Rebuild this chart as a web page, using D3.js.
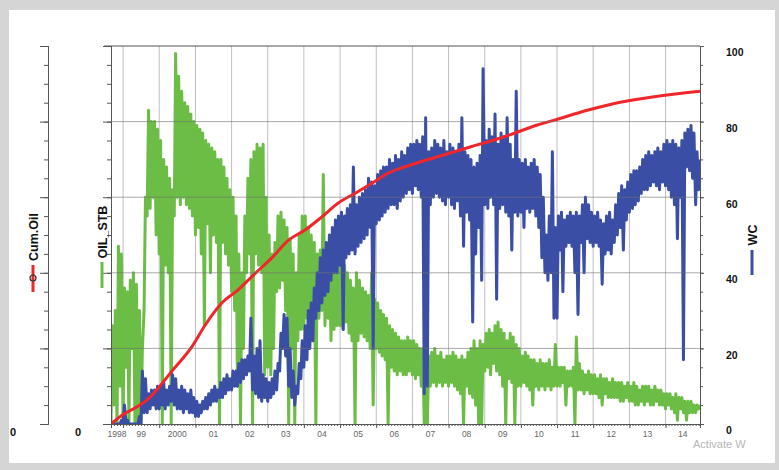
<!DOCTYPE html>
<html>
<head>
<meta charset="utf-8">
<script src="https://cdn.jsdelivr.net/npm/d3@7"></script>
<style>
  html, body { margin: 0; padding: 0; background: #fff; }
  svg { display: block; font-family: "Liberation Sans", Arial, sans-serif; }
</style>
</head>
<body>
<svg id="chart" width="779" height="470"></svg>
<script>
// ---- production history, one entry per month starting Sep 1998 ----
const firstMonth = "1998-09-01";
const lastDate = "2014-12-15";

const yearLabels = ["1998", "99", "2000", "01", "02", "03", "04", "05", "06", "07",
                    "08", "09", "10", "11", "12", "13", "14"];
const wcTicks = [0, 20, 40, 60, 80, 100];

// water cut (%), monthly low / high of the daily readings
const wcLo = [
  0, 0, 0, 0,
  0, 0, 0, 0, 0, 0, 0, 3, 3, 4, 5, 4,
  4, 5, 4, 5, 6, 5, 4, 4, 3, 4, 3, 3,
  2, 2, 3, 4, 4, 5, 6, 6, 7, 7, 8, 9,
  9, 10, 10, 11, 12, 13, 14, 9, 8, 7, 6, 7,
  6, 7, 8, 9, 14, 20, 18, 10, 7, 5, 8, 12,
  15, 17, 20, 22, 28, 30, 32, 34, 35, 38, 40, 40,
  42, 25, 44, 45, 46, 45, 47, 48, 49, 50, 52, 20,
  53, 54, 55, 56, 57, 58, 58, 57, 59, 60, 61, 62,
  61, 63, 62, 60, 8, 10, 58, 60, 61, 60, 59, 58,
  60, 58, 57, 59, 55, 47, 56, 54, 27, 45, 52, 38,
  58, 57, 60, 58, 33, 57, 58, 56, 55, 46, 56, 55,
  56, 52, 57, 56, 57, 55, 52, 44, 40, 38, 40, 28,
  28, 46, 35, 47, 48, 47, 40, 29, 48, 40, 49, 48,
  47, 48, 47, 37, 45, 46, 45, 48, 50, 52, 46, 54,
  56, 57, 58, 59, 61, 62, 62, 63, 64, 63, 62, 64,
  63, 62, 60, 58, 49, 60, 17, 68, 67, 65, 58, 62
];
const wcHi = [
  0, 0, 0, 1,
  5, 1, 0, 0, 0, 2, 14, 12, 8, 9, 9, 10,
  10, 11, 9, 10, 13, 12, 9, 10, 9, 8, 9, 7,
  6, 5, 6, 7, 8, 9, 10, 9, 11, 12, 13, 12,
  14, 14, 16, 17, 17, 18, 28, 18, 20, 22, 13, 12,
  11, 12, 14, 16, 24, 29, 28, 20, 14, 10, 16, 22,
  26, 30, 32, 36, 40, 44, 46, 48, 50, 52, 54, 55,
  56, 55, 57, 58, 68, 58, 60, 61, 62, 65, 64, 63,
  66, 67, 68, 68, 70, 69, 71, 70, 72, 71, 73, 74,
  74, 75, 74, 76, 81, 72, 73, 75, 74, 73, 75, 72,
  74, 73, 72, 74, 81, 72, 71, 70, 68, 69, 71, 94,
  75, 78, 76, 82, 74, 77, 76, 81, 74, 70, 88, 70,
  69, 70, 68, 69, 70, 68, 66, 60, 50, 55, 72, 52,
  55, 56, 54, 55, 56, 55, 56, 55, 58, 60, 58, 56,
  55, 56, 54, 53, 55, 56, 54, 58, 61, 63, 62, 64,
  66, 67, 67, 68, 70, 71, 72, 71, 72, 73, 72, 74,
  75, 74, 75, 74, 73, 75, 77, 78, 79, 77, 72, 70
];

// oil rate (percent of the OIL_STB axis), monthly low / high
const oilLo = [
  0, 5, 0, 10,
  0, 15, 0, 20, 0, 0, 0, 30, 55, 57, 60, 50,
  45, 0, 42, 40, 0, 55, 60, 58, 60, 58, 57, 55,
  50, 52, 45, 26, 53, 40, 50, 48, 0, 48, 45, 42,
  35, 30, 10, 0, 20, 40, 45, 0, 45, 42, 40, 13,
  15, 13, 20, 35, 36, 38, 30, 0, 20, 0, 22, 25,
  25, 28, 30, 22, 0, 28, 30, 26, 28, 22, 25, 26,
  26, 25, 27, 24, 22, 0, 22, 24, 23, 22, 20, 5,
  20, 19, 18, 17, 0, 15, 14, 13, 14, 13, 13, 14,
  13, 12, 13, 10, 0, 0, 10, 11, 10, 11, 10, 11,
  10, 11, 10, 9, 8, 0, 10, 8, 7, 5, 0, 0,
  14, 15, 13, 16, 14, 13, 10, 0, 12, 11, 0, 10,
  10, 11, 10, 9, 5, 10, 9, 10, 9, 10, 9, 10,
  10, 10, 11, 5, 10, 10, 0, 9, 9, 8, 9, 8,
  8, 8, 7, 5, 8, 7, 7, 7, 7, 6, 6, 7,
  6, 6, 5, 5, 6, 5, 6, 5, 5, 6, 5, 5,
  4, 5, 4, 3, 1, 4, 3, 1, 3, 3, 3, 4
];
const oilHi = [
  26, 30, 47, 45,
  36, 35, 38, 40, 37, 30, 20, 60, 83, 80, 80, 78,
  75, 70, 68, 65, 62, 98, 92, 88, 85, 84, 82, 80,
  79, 78, 77, 75, 74, 73, 72, 70, 70, 68, 65, 62,
  60, 55, 45, 40, 55, 65, 70, 72, 74, 73, 74, 60,
  50, 45, 48, 55, 56, 54, 52, 49, 45, 40, 50, 55,
  55, 52, 50, 48, 45, 46, 66, 45, 44, 42, 43, 42,
  44, 42, 40, 38, 36, 40, 38, 36, 35, 34, 40, 33,
  32, 30, 29, 28, 26, 25, 24, 23, 22, 22, 23, 22,
  22, 21, 20, 20, 19, 18, 19, 20, 18, 19, 17, 18,
  18, 19, 18, 17, 18, 17, 19, 20, 22, 20, 22, 21,
  24, 25, 24, 26, 27, 25, 24, 22, 24, 23, 21, 20,
  18, 19, 18, 17, 17, 16, 17, 16, 16, 17, 15, 21,
  15, 15, 15, 14, 14, 15, 23, 16, 14, 13, 14, 13,
  13, 12, 13, 12, 12, 11, 12, 11, 11, 11, 10, 11,
  10, 11, 10, 9, 10, 10, 10, 9, 10, 9, 9, 8,
  8, 8, 7, 8, 7, 7, 6, 6, 6, 5, 5, 5
];

// cumulative oil (percent of the Cum.Oil axis)
const cumDates = [
  "1998-09-01", "1999-01-01", "1999-06-20", "1999-09-10", "2000-01-01",
  "2000-05-08", "2000-11-25", "2001-04-05", "2001-09-24", "2002-03-08",
  "2002-08-25", "2003-02-14", "2003-07-24", "2004-01-12", "2004-07-01",
  "2004-12-10", "2005-05-30", "2005-11-17", "2006-04-27", "2006-10-15",
  "2007-09-12", "2008-08-22", "2009-07-19", "2010-06-17", "2010-12-05",
  "2011-11-03", "2012-10-12", "2013-09-10", "2014-12-15"
];
const cumValues = [
  0, 2.5, 5, 6.6, 9.8,
  14, 20.4, 26, 32, 35.5,
  39.8, 44, 48.5, 51.3, 54.8,
  58.4, 61, 63.7, 66.3, 68,
  70.7, 73.4, 76, 79.1, 80.4,
  83, 85.2, 86.6, 88
];

// ---- layout ----
const W = 779, H = 470;
const plot = { left: 111, right: 700, top: 46, bottom: 424 };
const colors = { oil: "#6cbd45", wc: "#3a4ea6", cum: "#f0262a" };

const svg = d3.select("#chart");
const parse = d3.utcParse("%Y-%m-%d");
const t0 = parse(firstMonth), t1 = parse(lastDate);

const x = d3.scaleUtc().domain([t0, t1]).range([plot.left, plot.right]);
const yWc = d3.scaleLinear().domain([0, 100]).range([plot.bottom, plot.top]);
const yOil = d3.scaleLinear().domain([0, 100]).range([plot.bottom, plot.top]);
const yCum = d3.scaleLinear().domain([0, 100]).range([plot.bottom, plot.top]);

// outer frame
svg.append("rect").attr("width", W).attr("height", H).attr("fill", "#d5d5d5");
svg.append("rect").attr("x", 9).attr("y", 10).attr("width", W - 9 - 4).attr("height", 453).attr("fill", "#fff");

// vertical year grid
const years = d3.utcYear.range(d3.utcYear.ceil(t0), t1);
svg.append("g").selectAll("line").data(years).join("line")
  .attr("x1", d => x(d)).attr("x2", d => x(d))
  .attr("y1", plot.top).attr("y2", plot.bottom)
  .attr("stroke", "#c0bdc6").attr("stroke-width", 1);

// monthly zig-zag between low and high readings
function zigzag(lo, hi) {
  const pts = [];
  lo.forEach((v, i) => {
    const m = d3.utcMonth.offset(t0, i);
    pts.push([m, v]);
    pts.push([d3.utcDay.offset(m, 14), hi[i]]);
  });
  return pts;
}

svg.append("clipPath").attr("id", "plotclip").append("rect")
  .attr("x", plot.left).attr("y", plot.top - 2)
  .attr("width", plot.right - plot.left).attr("height", plot.bottom - plot.top + 2);

const series = svg.append("g").attr("clip-path", "url(#plotclip)");

series.append("path")
  .datum(zigzag(oilLo, oilHi))
  .attr("fill", "none").attr("stroke", colors.oil).attr("stroke-width", 3)
  .attr("stroke-linejoin", "round")
  .attr("d", d3.line().x(d => x(d[0])).y(d => yOil(d[1])));

series.append("path")
  .datum(zigzag(wcLo, wcHi))
  .attr("fill", "none").attr("stroke", colors.wc).attr("stroke-width", 3)
  .attr("stroke-linejoin", "round")
  .attr("d", d3.line().x(d => x(d[0])).y(d => yWc(d[1])));

// horizontal grid sits over the curves, faintly
svg.append("g").selectAll("line").data(wcTicks.slice(1, -1)).join("line")
  .attr("x1", plot.left).attr("x2", plot.right)
  .attr("y1", d => yWc(d)).attr("y2", d => yWc(d))
  .attr("stroke", "#6f6f6f").attr("stroke-opacity", 0.6).attr("stroke-width", 1);

series.append("path")
  .datum(cumDates.map((d, i) => [parse(d), cumValues[i]]))
  .attr("fill", "none").attr("stroke", colors.cum).attr("stroke-width", 3)
  .attr("d", d3.line().curve(d3.curveMonotoneX).x(d => x(d[0])).y(d => yCum(d[1])));

// top frame line
svg.append("line").attr("x1", plot.left - 7).attr("x2", plot.right)
  .attr("y1", plot.top).attr("y2", plot.top).attr("stroke", "#555");

// ---- axes ----
const minorTicks = d3.range(0, 101, 5);

function styleAxis(g) {
  g.select(".domain").attr("stroke", "#555");
  g.selectAll(".tick line").attr("stroke", "#555");
}

// right: water cut
svg.append("g").attr("transform", `translate(${plot.right},0)`)
  .call(d3.axisRight(yWc).tickValues(minorTicks).tickSize(3).tickFormat(""))
  .call(styleAxis);
const wcAxis = svg.append("g").attr("transform", `translate(${plot.right},0)`)
  .call(d3.axisRight(yWc).tickValues(wcTicks).tickSize(4).tickPadding(22))
  .call(styleAxis);
wcAxis.selectAll("text")
  .attr("font-size", 10.5).attr("font-weight", "bold").attr("fill", "#111")
  .attr("dy", "0.95em").attr("font-family", "'Liberation Sans', Arial, sans-serif");

// left axes: OIL_STB on the plot edge, Cum.Oil further out
function leftAxis(xPos, scale, labelDx) {
  const g = svg.append("g").attr("transform", `translate(${xPos},0)`);
  g.append("g").call(d3.axisLeft(scale).tickValues(minorTicks).tickSize(4).tickFormat("")).call(styleAxis);
  g.append("g").call(d3.axisLeft(scale).tickValues(wcTicks).tickSize(8)
      .tickFormat(d => d === 0 ? "0" : "")).call(styleAxis)
    .selectAll("text")
      .attr("x", labelDx).attr("dy", "1.05em").attr("text-anchor", "middle")
      .attr("font-size", 11).attr("font-weight", "bold").attr("fill", "#111")
      .attr("font-family", "'Liberation Sans', Arial, sans-serif");
  return g;
}
leftAxis(plot.left, yOil, -33);
leftAxis(48, yCum, -35);

// bottom: monthly ticks, year ticks and mid-year labels
svg.append("g").attr("transform", `translate(0,${plot.bottom})`)
  .call(d3.axisBottom(x).ticks(d3.utcMonth.every(1)).tickSize(2).tickFormat(""))
  .call(styleAxis);
svg.append("g").attr("transform", `translate(0,${plot.bottom})`)
  .call(d3.axisBottom(x).tickValues(years).tickSize(4).tickFormat(""))
  .call(styleAxis);

const labelYears = d3.utcYear.range(d3.utcYear.floor(t0), t1);
svg.append("g").selectAll("text").data(labelYears).join("text")
  .attr("x", d => {
    const a = Math.max(x(d), plot.left), b = Math.min(x(d3.utcYear.offset(d, 1)), plot.right);
    return (a + b) / 2;
  })
  .attr("y", 437)
  .attr("text-anchor", "middle").attr("font-size", 8.5).attr("fill", "#666")
  .text((d, i) => yearLabels[i]);

// ---- series labels ----
function seriesLabel(cx, cy, text, color, lineY1, lineY2) {
  svg.append("text")
    .attr("transform", `translate(${cx},${cy}) rotate(-90)`)
    .attr("text-anchor", "middle").attr("dy", "0.36em")
    .attr("font-size", 12.5).attr("font-weight", "bold").attr("fill", "#111")
    .text(text);
  svg.append("line").attr("x1", cx).attr("x2", cx).attr("y1", lineY1).attr("y2", lineY2)
    .attr("stroke", color).attr("stroke-width", 3);
}
seriesLabel(33, 237, "Cum.Oil", colors.cum, 265, 292);
svg.append("circle").attr("cx", 33).attr("cy", 278).attr("r", 3)
  .attr("fill", "none").attr("stroke", "#333").attr("stroke-width", 1.2);
seriesLabel(102, 232, "OIL_STB", colors.oil, 262, 288);
seriesLabel(752, 235, "WC", colors.wc, 250, 275);

// desktop watermark text
svg.append("text").attr("x", 693).attr("y", 448)
  .attr("font-size", 11).attr("fill", "#b5b5b5")
  .attr("font-family", "'Liberation Sans', Arial, sans-serif")
  .text("Activate W");
</script>
</body>
</html>
